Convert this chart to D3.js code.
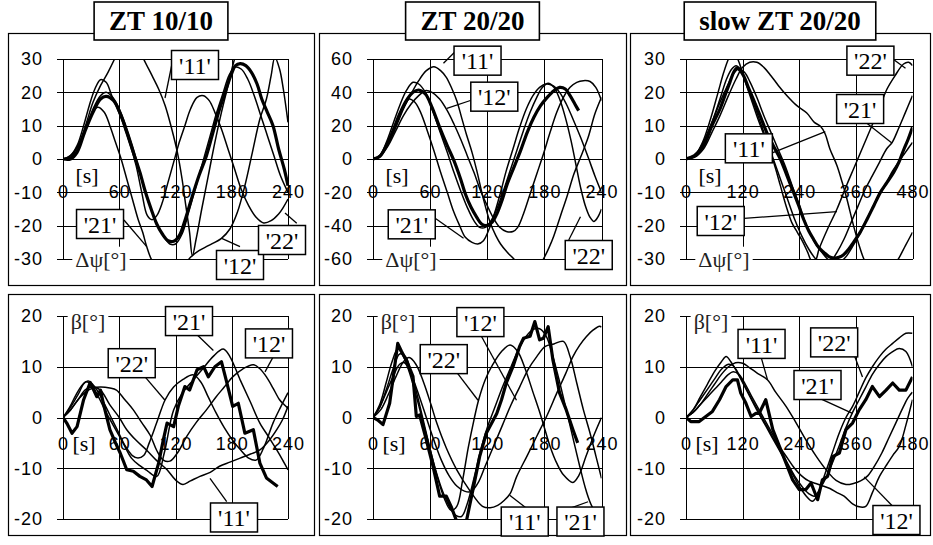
<!DOCTYPE html>
<html>
<head>
<meta charset="utf-8">
<script src="https://cdnjs.cloudflare.com/ajax/libs/d3/7.8.5/d3.min.js"></script>
<style>
  body { margin: 0; background: #fff; }
  svg { display: block; }
</style>
</head>
<body>
<div id="chart"></div>
<script>
// ---- data ----
var titles = ['ZT 10/10', 'ZT 20/20', 'slow ZT 20/20'];
var xTicks240 = [0, 60, 120, 180, 240];
var xTicks480 = [0, 120, 240, 360, 480];
var yTicksPsi30 = [-30, -20, -10, 0, 10, 20, 30];
var yTicksPsi60 = [-60, -40, -20, 0, 20, 40, 60];
var yTicksBeta = [-20, -10, 0, 10, 20];

// Δψ, ZT 10/10
var psiA_avg = [[0,0],[8,0],[15,2],[23,8],[32,14],[40,18],[46,18.8],[54,17.5],[62,13],[68,8],[75,2],[82,-4],[88,-10],[94,-15],[100,-19.5],[106,-22.5],[112,-24.5],[118,-24.7],[124,-23],[130,-18.5],[137,-12],[145,-5],[153,1],[160,8],[167,15],[173,20],[179,25],[184,28],[189,28.6],[195,28],[201,26],[207,22.5],[212,18],[218,14],[224,10],[230,3],[236,-3],[240,-8]];
var psiA11 = [[0,0],[8,1],[16,4],[24,10],[32,17],[40,22],[48,26],[55,30],[63,35],[72,37],[80,34],[86,30],[95,25],[102,21],[109,16],[116,9],[122,2],[127,-6],[131,-14],[135,-22],[138,-29],[142,-24],[148,-15],[155,-5],[162,5],[169,14],[176,22],[183,30],[192,37],[205,40],[220,38],[240,33]];
var psiA12 = [[0,0],[8,0.5],[16,3],[24,9],[32,15],[40,19],[46,20],[53,18.5],[60,15],[67,10],[74,4],[80,-2],[87,-9],[94,-15],[101,-20],[108,-23.5],[114,-25.5],[120,-25.5],[127,-22.5],[134,-16],[141,-9],[149,-1],[157,7],[164,14],[171,20],[177,25],[183,27.5],[190,27],[197,24],[204,19],[211,13],[218,7],[225,1],[232,-5],[240,-10]];
var psiA21 = [[0,0],[8,0.5],[16,4],[24,9],[31,13.5],[37,15.5],[44,14],[50,10],[56,5],[62,0],[68,-6],[74,-12],[80,-18],[85,-22],[89,-26],[95,-30.5],[105,-34],[116,-35],[126,-33],[136,-29.5],[145,-27.5],[155,-26],[169,-23.8],[178,-21],[186,-16],[194,-8],[202,2],[210,12],[217,18],[222,25],[226,30.5],[231,27],[235,21],[240,11]];
var psiA22 = [[0,0],[8,1],[15,4],[22,10],[28,16],[34,21],[40,23.8],[46,23],[52,19],[58,15],[65,10],[72,4],[78,-2],[84,-10],[90,-17],[95,-18.2],[100,-17],[106,-13],[112,-7],[118,-1],[124,5],[130,10],[136,15],[143,18.5],[150,19],[156,17.5],[162,14],[169,9],[176,3],[183,-3],[190,-9],[198,-14],[206,-17.5],[214,-19.2],[222,-18.5],[230,-16.5],[235,-14.5],[240,-12]];
var psiA_labels = [["'11'",140.8,28.2,116,28.2,108.8,18.3],["'21'",39.5,-19.5,65,-18.3,89.3,-26.3],["'12'",188.8,-31.8,188.8,-26.3,169.3,-23.8],["'22'",233.6,-24.3,249.3,-19.3,236.8,-16.2]];

// Δψ, ZT 20/20
var psiB_avg = [[0,0],[7,1.5],[14,8],[21,17],[28,27],[35,35],[42,40],[48,41.4],[55,39],[62,31],[70,19],[78,8],[85,-1],[92,-12],[97,-21],[103,-29],[109,-35],[114,-39],[119,-40],[125,-38],[130,-33],[136,-24],[141,-15],[148,-5],[155,5],[162,16],[169,25],[176,32],[183,37],[190,41],[196,43],[202,42],[207,38],[212,33],[216,29]];
var psiB11 = [[0,0],[8,2],[16,9],[24,19],[32,30],[40,39],[48,47],[56,53],[64,55.4],[71,53],[77,49],[83,42],[88,35],[93,25],[98,15],[104,4],[109,-7],[116,-24],[123,-38],[129,-46],[134,-51],[141,-56],[148,-60],[157,-66],[165,-68],[172,-66],[179,-60],[185,-53],[190,-46],[197,-34],[204,-22],[211,-9],[218,1],[226,13],[233,27],[240,37]];
var psiB12 = [[0,0],[8,2],[16,8],[24,17],[32,26],[40,33],[48,38],[55,41],[62,40],[70,36],[78,29],[85,21],[92,12],[99,2],[106,-8],[113,-19],[120,-28],[127,-36],[133,-41],[140,-43.5],[147,-43.5],[152,-41],[158,-33],[165,-21],[172,-9],[179,3],[186,16],[193,28],[200,37],[207,43],[214,46],[221,47],[228,46.5],[234,43],[240,35]];
var psiB21 = [[0,0],[7,2],[14,8],[21,17],[28,27],[34,33],[38,36],[44,34],[50,28],[57,17],[64,5],[71,-8],[78,-20],[85,-32],[91,-40],[97,-47],[104,-50],[110,-51],[116,-49],[122,-42],[128,-32],[134,-20],[140,-7],[147,6],[154,19],[161,30],[168,38],[175,43],[182,45],[189,44],[196,40],[203,33],[210,24],[218,13],[226,1],[233,-10],[240,-20]];
var psiB22 = [[0,0],[7,2],[14,10],[21,21],[28,32],[35,41],[42,46],[48,45],[55,40],[62,30],[70,17],[78,4],[85,-8],[92,-19],[99,-29],[106,-37],[112,-41],[118,-41],[124,-37],[130,-30],[137,-19],[144,-7],[151,5],[158,17],[165,28],[172,37],[178,43],[184,45.5],[190,43],[196,36],[202,25],[208,11],[213,-3],[218,-17],[223,-28],[228,-35],[232,-37.5],[236,-35],[240,-30]];
var psiB_labels = [["'11'",109.8,59,88.1,65.4,74,57.4],["'12'",127.4,37.4,103.9,35.4,77.6,30.4],["'21'",40.7,-39.2,65.3,-35.6,95.1,-47.6],["'22'",226.6,-57.6,205.6,-48.6,217.9,-34.6]];

// Δψ, slow ZT 20/20
var psiC_avg = [[0,0],[18,1],[37,4],[55,10],[72,15],[85,20],[93,23],[101,26],[108,27.3],[115,26.5],[122,25],[132,21.5],[143,17.8],[157,13],[171,8],[185,4],[200,0],[214,-5],[228,-10],[239,-14],[249,-18],[260,-21.5],[270,-24],[281,-26.5],[292,-28],[303,-29.3],[313,-29.7],[324,-29.5],[334,-28.7],[345,-27],[355,-25],[369,-22],[384,-18],[398,-14],[412,-10],[426,-7],[440,-4],[451,-1],[462,3],[471,6],[480,9.5]];
var psiC11 = [[0,0],[18,0.5],[37,3],[55,8],[72,13],[90,19],[106,24],[120,27.5],[135,29],[150,29],[165,27.5],[180,25],[196,22],[214,19],[235,16],[256,13.8],[272,11],[285,9.8],[295,7.5],[305,3],[320,-2],[331,-7],[341,-12],[355,-20],[366,-25.5],[377,-30],[390,-33],[405,-35],[420,-35],[435,-33],[450,-30],[465,-26],[480,-22]];
var psiC12 = [[0,0],[18,1],[37,5],[55,11],[72,17],[88,22],[100,25.5],[112,27],[124,26],[136,23],[150,18.5],[165,13],[180,8],[195,3],[210,-2],[225,-8],[238,-13],[250,-18],[262,-22],[275,-25.5],[288,-28],[300,-30],[312,-31],[325,-31],[338,-29.5],[352,-26.5],[366,-23],[380,-19],[394,-15],[408,-11],[422,-8],[436,-4],[450,-1],[465,2],[480,5]];
var psiC21 = [[0,0],[18,1],[37,5],[55,11],[72,18],[86,24],[97,27],[106,28],[115,27],[127,23],[140,18],[155,12],[170,6],[185,0],[200,-6],[215,-12],[230,-18],[245,-23],[260,-27],[275,-30],[290,-31.5],[305,-31],[320,-28],[335,-24],[350,-19],[365,-14],[380,-9],[395,-5],[410,-1],[425,3],[437,5],[450,9],[465,14],[480,19]];
var psiC22 = [[0,0],[18,1],[35,5],[52,12],[68,20],[80,26],[90,30],[98,32],[106,31],[115,28],[126,23],[138,18],[150,13],[163,8],[176,3],[188,-2],[200,-8],[212,-14],[224,-19],[236,-22],[248,-25],[258,-28],[266,-30.5],[274,-30.5],[282,-27],[300,-21],[320,-15],[340,-8],[355,-3],[373,3],[391,9],[409,15],[426,21],[443,25],[461,28.5],[472,29],[480,28]];
var psiC_labels = [["'22'",390.8,29.5,431.9,30.7,465.2,27.2],["'21'",369,15,366,12.7,436.9,4.7],["'11'",133.2,3.2,184.1,1.9,295.2,8.2],["'12'",73.6,-18.6,123.2,-17.8,320,-15.8]];

// β, ZT 10/10
var betaA_avg = [[0,0],[4,-1.1],[9.6,-3.1],[15,-1.8],[22,3.5],[29,6.9],[36,4.1],[40,5.4],[43,2.8],[50,-2.4],[56,-5],[61,-7],[68,-10.3],[75,-10.6],[82,-11.6],[89,-12.3],[95,-13.6],[102,-9],[107,-4.4],[111,-1.1],[118,-1.8],[123,2.2],[130,6.1],[135,5.4],[143,9.4],[150,10],[155,8],[162,10],[169,11],[174,7.4],[181,2.2],[187,2.8],[194,-3.1],[203,-2.4],[210,-9],[217,-11.9],[224,-12.9],[229,-13.6]];
var betaA11 = [[0,0],[8,1.5],[16,3.5],[24,5.5],[32,6],[40,5.4],[50,2.5],[60,0],[68,-2.4],[78,-4.5],[89,-6.4],[100,-8.5],[111,-10.3],[120,-12.3],[128,-13.2],[136,-12.5],[146,-11.6],[157,-10.8],[167,-9.6],[178,-8.8],[189,-8],[200,-7.2],[210,-6.4],[220,-4.5],[228,-2.4],[234,-0.5],[240,2.2]];
var betaA12 = [[0,0],[8,1.5],[16,3.5],[24,5],[32,5.8],[40,6],[50,5.8],[57,5.4],[66,3.5],[75,1.5],[84,-1],[93,-3.5],[100,-6.5],[107,-8.4],[114,-8.6],[122,-7],[132,-3.7],[142,-1],[153,1.5],[163,4],[172,6],[181,8],[192,9.6],[203,10.4],[210,9.6],[217,8],[224,5.8],[231,3.5],[236,2.5],[240,1.8]];
var betaA21 = [[0,0],[8,2],[16,4.5],[24,7],[30,6.5],[38,4],[46,1],[55,-2],[64,-5],[73,-8],[82,-9.5],[90,-10.5],[100,-11.6],[108,-7],[118,1.5],[128,5],[139,7.4],[150,9.8],[160,12],[171,13.5],[178,12],[189,7.4],[200,3],[210,-1.1],[220,-4],[228,-6.4],[234,-8.3],[240,-10.3]];
var betaA22 = [[0,0],[7,2],[14,4.5],[21,6.5],[27,7.2],[34,6],[42,3.5],[50,0.5],[58,-2.5],[66,-5.5],[74,-7.5],[80,-8],[86,-7.5],[92,-5],[100,-1],[109,3.5],[118,6],[128,7.5],[139,8.4],[147,7],[155,4],[163,1],[172,-2],[181,-4.5],[190,-6.5],[198,-8],[206,-8.4],[214,-6],[224,-1.1],[232,2],[240,4.9]];
var betaA_labels = [["'21'",134.4,19,140.8,16.7,160.4,13.2],["'12'",219.7,14.6,224.3,12,215.5,9],["'22'",73.3,10.7,85.7,8.4,108.8,3.4],["'11'",182.4,-19.7,174.6,-16.6,156.8,-12]];

// β, ZT 20/20
var betaB_avg = [[0,0],[5,-0.5],[10.5,-1.4],[17.5,2.8],[22,9],[26,14.6],[30,13],[35,11.3],[42,8.1],[45.5,0.2],[49,0.5],[56,-4.4],[63,-9.6],[70,-15.5],[77,-15.5],[82,-17.5],[88,-20.5],[93,-22],[98,-20.5],[105,-14.2],[112,-7.7],[119,-3.1],[125,-1],[130,0.8],[135,3.5],[140,6.8],[147,10],[154,14],[158,15.6],[165,16],[170,18.9],[175,15.3],[179,15.6],[184,17.9],[189,11.3],[196,4.8],[203,1.5],[210,-2.4],[215,-5]];
var betaB11 = [[0,0],[8,1.5],[16,4.5],[24,8],[32,11],[38,11.8],[45,10.5],[53,7],[61,2.5],[67,-1.1],[77,-6],[88,-10.3],[101,-14.2],[115,-17.5],[123,-17.8],[131,-17.3],[138,-16.3],[144,-15],[151,-11.6],[162,-7.5],[172,-3.7],[183,0.5],[193,4.8],[202,8.5],[210,12],[217,14.2],[224,15.9],[231,17.2],[238,18],[240,17.8]];
var betaB12 = [[0,0],[7,2],[14,5],[21,8],[28,10.5],[33,10.8],[40,8.5],[48,4.5],[56,0],[64,-4.5],[72,-8.5],[80,-11.5],[88,-13.5],[96,-14.5],[103,-14.6],[110,-13],[118,-9.5],[127,-5.5],[136,-1.5],[145,2.5],[154,6],[163,9.5],[172,12],[181,14],[190,14.5],[200,15],[207,12],[214,6.8],[221,1.5],[228,-3.1],[234,-7.5],[240,-12]];
var betaB21 = [[0,0],[7,2.5],[14,7],[20,11],[26,13.5],[32,12],[38,9],[45,4.5],[52,-0.5],[59,-5.5],[66,-10.5],[73,-14.5],[80,-17.5],[87,-19.3],[93,-19.5],[99,-17],[106,-12],[113,-6.5],[120,-2],[128,2],[136,6],[145,10],[153,13.5],[161,16],[168,17.3],[175,17.5],[182,16],[189,12],[196,7],[203,1.5],[210,-4],[217,-9.5],[224,-14.5],[230,-17.5],[236,-19],[240,-18.5]];
var betaB22 = [[0,0],[7,2],[14,5.5],[21,9.5],[28,12.5],[34,12],[40,9],[47,4],[54,-1.5],[61,-7],[68,-12],[75,-16],[82,-18.3],[88,-17.5],[94,-12.5],[100,-6],[106,-0.5],[111,3.5],[118,7.5],[126,10.5],[135,13],[144,14.3],[152,13],[160,9.5],[168,5],[176,0.5],[186,-5.7],[193,-9],[200,-11.3],[210,-12.8],[216,-11.5],[224,-7.5],[232,-3.5],[240,0]];
var betaB_labels = [["'12'",112.8,18.8,112.1,16.6,150.7,3.4],["'22'",74.3,11.5,87.6,9,110.3,3.4],["'11'",159.4,-20.5,161.2,-17.9,143.6,-15.3],["'21'",217.9,-20.5,206.7,-17.9,225.9,-16.6]];

// β, slow ZT 20/20
var betaC_avg = [[0,0],[10,-0.8],[28,-0.8],[42,0.2],[56,1.2],[71,3.5],[85,6.1],[99,7.4],[109,7.4],[116,4.8],[127,2.8],[138,0.2],[148,0.8],[155,0.8],[169,3.5],[184,-2.4],[198,-5.7],[212,-9],[226,-12.3],[240,-14.2],[254,-14.2],[265,-12.9],[279,-16.2],[289,-12.3],[300,-11.6],[311,-7.7],[325,-7],[339,-2.4],[353,-1.1],[367,1.5],[381,3.5],[395,6.1],[410,4.1],[424,5.4],[438,6.8],[452,5.4],[466,5.4],[480,8]];
var betaC11 = [[0,0],[15,1],[30,2.5],[45,4.5],[60,6.5],[75,8.5],[90,10],[105,10.8],[120,10.7],[135,9.8],[150,8.8],[173,7.4],[190,5],[212,2.2],[233,-1],[254,-4.4],[275,-7.5],[297,-10.3],[318,-12.4],[339,-13.2],[355,-13],[370,-12.5],[385,-11.5],[400,-9.5],[415,-7],[430,-4],[445,-1],[460,2],[470,3.8],[480,5]];
var betaC12 = [[0,0],[15,1],[30,2.5],[45,4],[60,5.5],[75,7],[90,8.5],[100,9],[112,8.5],[126,6.5],[140,4],[155,1.5],[170,-1],[185,-3.5],[200,-6],[215,-8],[230,-10],[245,-11.5],[260,-12.5],[275,-13],[290,-13.5],[305,-14],[320,-14.8],[335,-15.5],[353,-17],[367,-17.6],[381,-17.5],[395,-14.8],[410,-11.6],[424,-9.5],[438,-7.5],[452,-5.7],[466,-1.5],[480,3.5]];
var betaC21 = [[0,0],[15,1.5],[30,3.5],[45,5.5],[60,7.5],[75,9.5],[90,10.5],[100,10.2],[112,8.5],[126,6],[140,3.5],[155,1],[170,-1.5],[185,-4],[200,-6.5],[215,-9],[230,-11.5],[245,-13.5],[260,-15],[272,-15.5],[284,-14],[296,-12],[310,-9],[325,-5.5],[339,-2],[353,1],[367,3.5],[381,6],[395,8.5],[410,10.5],[424,12],[438,13],[452,13.6],[466,13],[480,10]];
var betaC22 = [[0,0],[15,1.5],[30,4],[45,6.5],[60,9],[75,11],[85,12],[95,11],[108,9],[122,6.5],[136,4],[150,1.5],[165,-1],[180,-3.5],[195,-6],[210,-8.5],[225,-11],[240,-13.5],[255,-15.5],[268,-16.5],[280,-15],[295,-11],[310,-7],[325,-3],[339,0],[353,2.2],[367,5],[381,7.8],[395,10],[410,12],[424,13.5],[438,14.6],[452,15.7],[466,16.6],[480,16.6]];
var betaC_labels = [["'11'",160.1,14.5,158.8,12,172.8,7.4],["'22'",314,14.8,356.4,12.3,374,8],["'21'",278.7,6.4,268.2,4.4,352.8,0.8],["'12'",446,-20.2,439,-17.6,377.6,-11.7]];

// ---- layout ----
var width = 933, height = 545;
var colBox = [[8, 314], [319, 626], [630, 930]];
var rowBox = [[33, 285], [294, 535]];
var colPlot = [[63, 288], [373, 601.5], [686, 912.5]];
var rowPlot = [[59, 259], [316, 519]];
var sans = 'Liberation Sans, Arial, sans-serif';
var serif = 'Liberation Serif, Times New Roman, serif';

var panels = [
  {col: 0, row: 0, xTicks: xTicks240, yTicks: yTicksPsi30, thin: [psiA11, psiA12, psiA21, psiA22], avg: psiA_avg, labels: psiA_labels},
  {col: 1, row: 0, xTicks: xTicks240, yTicks: yTicksPsi60, thin: [psiB11, psiB12, psiB21, psiB22], avg: psiB_avg, labels: psiB_labels},
  {col: 2, row: 0, xTicks: xTicks480, yTicks: yTicksPsi30, thin: [psiC11, psiC12, psiC21, psiC22], avg: psiC_avg, labels: psiC_labels},
  {col: 0, row: 1, xTicks: xTicks240, yTicks: yTicksBeta, thin: [betaA11, betaA12, betaA21, betaA22], avg: betaA_avg, labels: betaA_labels},
  {col: 1, row: 1, xTicks: xTicks240, yTicks: yTicksBeta, thin: [betaB11, betaB12, betaB21, betaB22], avg: betaB_avg, labels: betaB_labels},
  {col: 2, row: 1, xTicks: xTicks480, yTicks: yTicksBeta, thin: [betaC11, betaC12, betaC21, betaC22], avg: betaC_avg, labels: betaC_labels}
];

var svg = d3.select('#chart').append('svg')
            .attr('width', width)
            .attr('height', height);

svg.append('rect').attr('width', width).attr('height', height).attr('fill', '#fff');

function textWithBg(g, x, y, str, size) {
  var t = g.append('text')
           .attr('x', x).attr('y', y)
           .attr('dy', '0.35em')
           .attr('text-anchor', 'middle')
           .attr('font-family', serif)
           .attr('font-size', size)
           .attr('fill', '#222')
           .text(str);
  var bb = t.node().getBBox();
  g.insert('rect', function() { return t.node(); })
   .attr('x', bb.x - 3).attr('y', bb.y)
   .attr('width', bb.width + 6).attr('height', bb.height)
   .attr('fill', '#fff');
  return t;
}

function drawPanel(p, i) {
  var bx = colBox[p.col], by = rowBox[p.row];
  var px = colPlot[p.col], py = rowPlot[p.row];
  var w = px[1] - px[0], h = py[1] - py[0];

  var x = d3.scaleLinear().domain(d3.extent(p.xTicks)).range(px);
  var y = d3.scaleLinear().domain(d3.extent(p.yTicks)).range([py[1], py[0]]);

  var g = svg.append('g').attr('class', 'panel' + i);

  // frame
  g.append('rect')
   .attr('x', bx[0] + 0.5).attr('y', by[0] + 0.5)
   .attr('width', bx[1] - bx[0]).attr('height', by[1] - by[0])
   .attr('fill', '#fff').attr('stroke', '#000').attr('stroke-width', 1.2);

  // horizontal grid
  g.append('g')
   .attr('transform', 'translate(' + px[0] + ',0)')
   .call(d3.axisLeft(y).tickValues(p.yTicks).tickSize(-w).tickFormat(''))
   .call(function(s) { s.select('.domain').remove(); })
   .selectAll('line').attr('stroke', '#000').attr('shape-rendering', 'crispEdges');

  // vertical grid
  g.append('g')
   .attr('transform', 'translate(0,' + py[1] + ')')
   .call(d3.axisBottom(x).tickValues(p.xTicks).tickSize(-h).tickFormat(''))
   .call(function(s) { s.select('.domain').remove(); })
   .selectAll('line').attr('stroke', '#000').attr('shape-rendering', 'crispEdges');

  // y axis with ticks and labels
  var ya = g.append('g')
            .attr('transform', 'translate(' + px[0] + ',0)')
            .call(d3.axisLeft(y).tickValues(p.yTicks).tickSizeInner(6).tickSizeOuter(0)
                    .tickPadding(14).tickFormat(function(d) { return String(d); }));
  ya.attr('font-family', sans).attr('font-size', 18);
  ya.selectAll('text').attr('letter-spacing', 1);
  ya.selectAll('line, path').attr('stroke', '#000').attr('shape-rendering', 'crispEdges');

  // x tick labels, drawn below the zero line
  var xOff = p.row === 0 ? 33 : 26;
  var xa = g.append('g')
            .attr('transform', 'translate(0,' + y(0) + ')')
            .call(d3.axisBottom(x).tickValues(p.xTicks).tickSize(0).tickFormat(function(d) { return String(d); }));
  xa.select('.domain').remove();
  xa.attr('font-family', sans).attr('font-size', 18);
  xa.selectAll('text').attr('y', xOff).attr('dy', '0.35em').attr('letter-spacing', 1);

  // units
  if (p.row === 0) {
    g.append('text').attr('x', px[0] + 24).attr('y', y(0) + 16).attr('dy', '0.35em')
     .attr('text-anchor', 'middle').attr('font-family', serif).attr('font-size', 22).text('[s]');
  } else {
    g.append('text').attr('x', px[0] + 21).attr('y', y(0) + xOff).attr('dy', '0.35em')
     .attr('text-anchor', 'middle').attr('font-family', serif).attr('font-size', 22).text('[s]');
  }

  // curves
  var clipId = 'clip' + i;
  g.append('clipPath').attr('id', clipId)
   .append('rect').attr('x', px[0]).attr('y', py[0]).attr('width', w).attr('height', h);

  var smooth = d3.line()
                 .x(function(d) { return x(d[0]); })
                 .y(function(d) { return y(d[1]); })
                 .curve(d3.curveCatmullRom.alpha(0.5));
  var jagged = d3.line()
                 .x(function(d) { return x(d[0]); })
                 .y(function(d) { return y(d[1]); })
                 .curve(d3.curveLinear);

  var lines = g.append('g').attr('clip-path', 'url(#' + clipId + ')');
  lines.selectAll('path.thin').data(p.thin).enter()
       .append('path').attr('class', 'thin')
       .attr('d', smooth)
       .attr('fill', 'none').attr('stroke', '#000').attr('stroke-width', 1.5)
       .attr('stroke-linejoin', 'round');
  lines.append('path').datum(p.avg)
       .attr('d', p.row === 0 ? smooth : jagged)
       .attr('fill', 'none').attr('stroke', '#000').attr('stroke-width', 3.2)
       .attr('stroke-linejoin', 'round');

  // axis name
  if (p.row === 0) {
    textWithBg(g, px[0] + 38, py[1], 'Δψ[°]', 22);
  } else {
    textWithBg(g, px[0] + 25, py[0] + 5, 'β[°]', 22);
  }

  // series labels with leaders
  var lab = g.selectAll('g.lab').data(p.labels).enter().append('g').attr('class', 'lab');
  lab.append('line')
     .attr('x1', function(d) { return x(d[3]); })
     .attr('y1', function(d) { return y(d[4]); })
     .attr('x2', function(d) { return x(d[5]); })
     .attr('y2', function(d) { return y(d[6]); })
     .attr('stroke', '#000').attr('stroke-width', 1.3);
  lab.append('rect')
     .attr('x', function(d) { return x(d[1]) - 23.5; })
     .attr('y', function(d) { return y(d[2]) - 14.5; })
     .attr('width', 47).attr('height', 29)
     .attr('fill', '#fff').attr('stroke', '#000').attr('stroke-width', 1.5);
  lab.append('text')
     .attr('x', function(d) { return x(d[1]); })
     .attr('y', function(d) { return y(d[2]); })
     .attr('dy', '0.36em')
     .attr('text-anchor', 'middle')
     .attr('font-family', serif).attr('font-size', 24)
     .text(function(d) { return d[0]; });

  // title
  if (p.row === 0) {
    var cx = (bx[0] + bx[1]) / 2;
    var tt = g.append('text').attr('x', cx).attr('y', 21).attr('dy', '0.35em')
              .attr('text-anchor', 'middle').attr('font-family', serif)
              .attr('font-weight', 'bold').attr('font-size', 27)
              .text(titles[p.col]);
    var tw = tt.node().getBBox().width + 30;
    g.insert('rect', function() { return tt.node(); })
     .attr('x', cx - tw / 2).attr('y', 2).attr('width', tw).attr('height', 38)
     .attr('fill', '#fff').attr('stroke', '#000').attr('stroke-width', 1.6);
  }
}

panels.forEach(drawPanel);
</script>
</body>
</html>
